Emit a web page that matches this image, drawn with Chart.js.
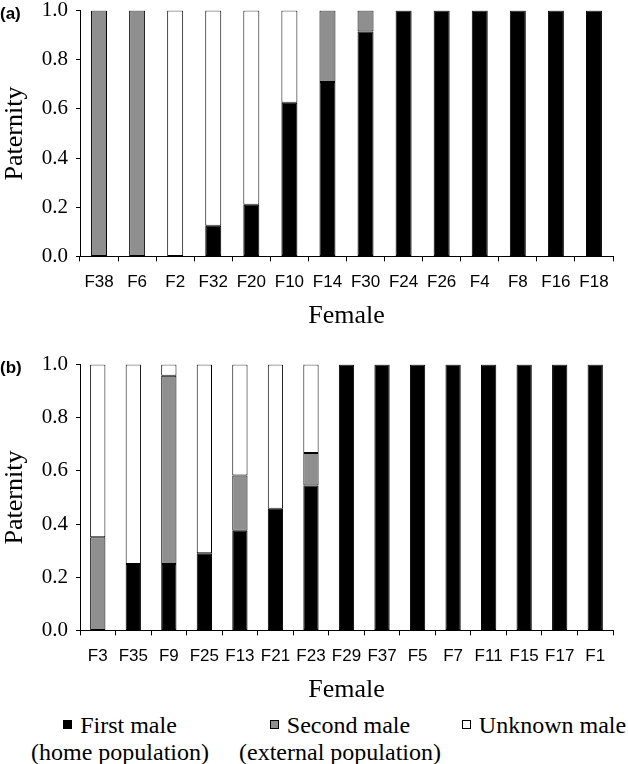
<!DOCTYPE html>
<html>
<head>
<meta charset="utf-8">
<script src="https://cdn.jsdelivr.net/npm/chart.js@4.4.1/dist/chart.umd.min.js"></script>
<style>
  body { margin: 0; background: #fff; width: 628px; height: 764px; position: relative; overflow: hidden; }
  .box { position: absolute; left: 0; width: 628px; }
  .tag { position: absolute; left: 0; font: bold 17px "Liberation Sans", Arial, sans-serif; color: #000; }
  .leg { position: absolute; top: 712px; width: 240px; text-align: center; font-family: "Liberation Serif", "DejaVu Serif", serif; font-size: 24px; line-height: 27px; color: #000; }
  .sq { display: inline-block; width: 7px; height: 7px; border: 1px solid #000; margin-right: 8px; vertical-align: 4px; }
</style>
</head>
<body>
<div class="box" style="top:-10px;height:346px"><canvas id="grafico-a" width="628" height="346"></canvas></div>
<div class="box" style="top:344px;height:366px"><canvas id="grafico-b" width="628" height="366"></canvas></div>
<div class="tag" style="top:4px">(a)</div>
<div class="tag" style="top:358px">(b)</div>
<div class="leg" style="left:0px"><span class="sq" style="background:#000"></span>First male<br>(home population)</div>
<div class="leg" style="left:220px"><span class="sq" style="background:#8f8f8f"></span>Second male<br>(external population)</div>
<div class="leg" style="left:424px"><span class="sq" style="background:#fff"></span>Unknown male</div>
<script>
// panel (a)
const femalesA = ['F38', 'F6', 'F2', 'F32', 'F20', 'F10', 'F14', 'F30', 'F24', 'F26', 'F4', 'F8', 'F16', 'F18'];
const firstMaleA = [0, 0, 0, 0.125, 0.21, 0.625, 0.71, 0.915, 1, 1, 1, 1, 1, 1];
const secondMaleA = [1, 1, 0, 0, 0, 0, 0.29, 0.085, 0, 0, 0, 0, 0, 0];
const unknownMaleA = [0, 0, 1, 0.875, 0.79, 0.375, 0, 0, 0, 0, 0, 0, 0, 0];

// panel (b)
const femalesB = ['F3', 'F35', 'F9', 'F25', 'F13', 'F21', 'F23', 'F29', 'F37', 'F5', 'F7', 'F11', 'F15', 'F17', 'F1'];
const firstMaleB = [0, 0.25, 0.25, 0.29, 0.375, 0.458, 0.545, 1, 1, 1, 1, 1, 1, 1, 1];
const secondMaleB = [0.35, 0, 0.708, 0, 0.208, 0, 0.122, 0, 0, 0, 0, 0, 0, 0, 0];
const unknownMaleB = [0.65, 0.75, 0.042, 0.71, 0.417, 0.542, 0.333, 0, 0, 0, 0, 0, 0, 0, 0];

const yTicks = [0, 0.2, 0.4, 0.6, 0.8, 1.0];

const serif = '"Liberation Serif", "DejaVu Serif", serif';
const sans = '"Liberation Sans", Arial, sans-serif';

const makeChart = (id, labels, first, second, unknown, barPct) => {
  const ds = (label, data, color) => ({
    label, data,
    backgroundColor: color,
    borderColor: '#000',
    borderWidth: 1,
    borderSkipped: false,
    categoryPercentage: 1,
    barPercentage: barPct
  });

  return new Chart(document.getElementById(id), {
    type: 'bar',
    data: {
      labels,
      datasets: [
        ds('First male (home population)', first, '#000'),
        ds('Second male (external population)', second, '#8f8f8f'),
        ds('Unknown male', unknown, '#fff')
      ]
    },
    options: {
      responsive: false,
      animation: false,
      layout: { padding: { left: 0, right: 15, top: 0, bottom: 4 } },
      plugins: { legend: { display: false }, tooltip: { enabled: false } },
      scales: {
        x: {
          stacked: true,
          grid: { display: true, offset: true, drawOnChartArea: false, drawTicks: true, tickLength: 5, tickColor: '#000' },
          border: { display: true, color: '#000', width: 1 },
          ticks: { color: '#000', font: { family: sans, size: 17 }, padding: 11, maxRotation: 0, autoSkip: false },
          title: { display: true, text: 'Female', color: '#000', font: { family: serif, size: 26 }, padding: { top: -3, bottom: 0 } }
        },
        y: {
          stacked: true,
          min: 0,
          max: 1,
          afterBuildTicks: (axis) => { axis.ticks = yTicks.map(v => ({ value: v })); },
          afterFit: (axis) => { axis.width = 80; },
          grid: { display: true, drawOnChartArea: false, drawTicks: true, tickLength: 4, tickColor: '#000' },
          border: { display: true, color: '#000', width: 1 },
          ticks: { color: '#000', font: { family: serif, size: 21 }, padding: 8, callback: v => Number(v).toFixed(1) },
          title: { display: true, text: 'Paternity', color: '#000', font: { family: serif, size: 26 }, padding: 0 }
        }
      }
    }
  });
};

makeChart('grafico-a', femalesA, firstMaleA, secondMaleA, unknownMaleA, 0.42);
makeChart('grafico-b', femalesB, firstMaleB, secondMaleB, unknownMaleB, 0.43);
</script>
</body>
</html>
